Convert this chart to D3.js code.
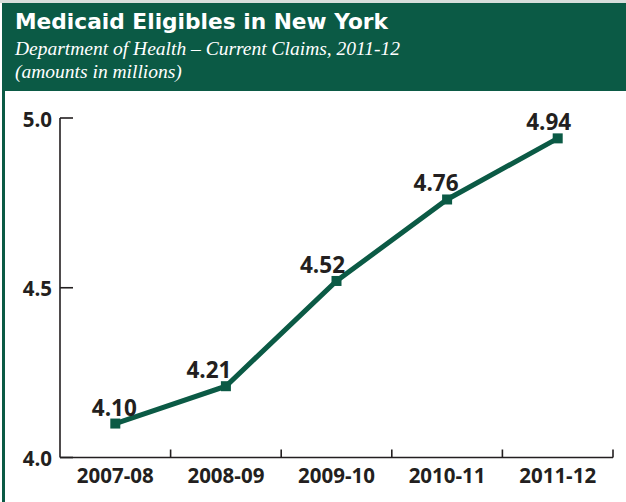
<!DOCTYPE html>
<html>
<head>
<meta charset="utf-8">
<script src="https://cdn.jsdelivr.net/npm/d3@7"></script>
<style>
  html, body { margin: 0; padding: 0; background: #fff; }
  svg { display: block; }
</style>
</head>
<body>
<svg id="chart" width="626" height="502"></svg>
<script>
// Medicaid eligibles by fiscal year (millions)
const years = ["2007-08", "2008-09", "2009-10", "2010-11", "2011-12"];
const eligibles = [4.10, 4.21, 4.52, 4.76, 4.94];
const yTicks = [4.0, 4.5, 5.0];
const valueLabels = ["4.10", "4.21", "4.52", "4.76", "4.94"];
// horizontal nudges so value labels sit up-left of the rising line
const labelShift = [-1, -17, -14, -11, -9];

const title = "Medicaid Eligibles in New York";
const subtitle1 = "Department of Health \u2013 Current Claims, 2011-12";
const subtitle2 = "(amounts in millions)";

const green = "#0b5a45";
const ink = "#231f20";

const svg = d3.select("#chart");
const W = 626, H = 502;

// Frame: light top rule, header band, left border
svg.append("rect").attr("x", 0).attr("y", 0).attr("width", W).attr("height", 3).attr("fill", "#d8dedb");
svg.append("rect").attr("x", 2).attr("y", 3).attr("width", W - 2).attr("height", 88).attr("fill", green);
svg.append("rect").attr("x", 2).attr("y", 91).attr("width", 3).attr("height", H - 91).attr("fill", green);

svg.append("text").attr("x", 15).attr("y", 29)
  .attr("fill", "#fff").attr("font-family", "'DejaVu Sans', sans-serif")
  .attr("font-weight", 700).attr("font-size", 21.5)
  .attr("textLength", 373).attr("lengthAdjust", "spacingAndGlyphs")
  .text(title);

const serif = "'Liberation Serif', 'Times New Roman', serif";
svg.append("text").attr("x", 15).attr("y", 55)
  .attr("fill", "#fff").attr("font-family", serif)
  .attr("font-style", "italic").attr("font-size", 19.5).text(subtitle1);
svg.append("text").attr("x", 15).attr("y", 78)
  .attr("fill", "#fff").attr("font-family", serif)
  .attr("font-style", "italic").attr("font-size", 19.5).text(subtitle2);

// Plot area
const plotLeft = 60, plotRight = 613, plotTop = 118, plotBottom = 457.5;

const x = d3.scaleBand().domain(years).range([plotLeft, plotRight]).padding(0);
const y = d3.scaleLinear().domain([4.0, 5.0]).range([plotBottom, plotTop]);

const font = "'Open Sans', Lato, sans-serif";

// Y axis
const yAxis = svg.append("g");
yAxis.append("line").attr("x1", plotLeft).attr("x2", plotLeft).attr("y1", plotTop).attr("y2", plotBottom)
  .attr("stroke", ink).attr("stroke-width", 1.6);
yAxis.selectAll("line.tick").data(yTicks).join("line").attr("class", "tick")
  .attr("x1", plotLeft).attr("x2", plotLeft + 13)
  .attr("y1", d => y(d)).attr("y2", d => y(d))
  .attr("stroke", ink).attr("stroke-width", 1.6);
yAxis.selectAll("text").data(yTicks).join("text")
  .attr("x", 52).attr("y", d => y(d) + 8.5)
  .attr("text-anchor", "end").attr("fill", ink)
  .attr("font-family", font).attr("font-weight", 700).attr("font-size", 20.5)
  .text(d => d3.format(".1f")(d));

// X axis
const xAxis = svg.append("g");
xAxis.append("line").attr("x1", plotLeft).attr("x2", plotRight).attr("y1", plotBottom).attr("y2", plotBottom)
  .attr("stroke", ink).attr("stroke-width", 1.6);
xAxis.selectAll("line.tick").data(years.slice(1).map(d => x(d)).concat([plotRight]))
  .join("line").attr("class", "tick")
  .attr("x1", d => d).attr("x2", d => d)
  .attr("y1", plotBottom).attr("y2", plotBottom - 8)
  .attr("stroke", ink).attr("stroke-width", 1.6);
xAxis.selectAll("text").data(years).join("text")
  .attr("x", d => x(d) + x.bandwidth() / 2).attr("y", 483)
  .attr("text-anchor", "middle").attr("fill", ink)
  .attr("font-family", font).attr("font-weight", 700).attr("font-size", 20.5)
  .text(d => d);

// Series line and markers
const pts = years.map((yr, i) => ({ yr, v: eligibles[i], label: valueLabels[i], dx: labelShift[i] }));
const cx = d => x(d.yr) + x.bandwidth() / 2;

svg.append("path").datum(pts)
  .attr("d", d3.line().x(cx).y(d => y(d.v)))
  .attr("fill", "none").attr("stroke", green).attr("stroke-width", 5)
  .attr("stroke-linejoin", "miter");

svg.selectAll("rect.marker").data(pts).join("rect").attr("class", "marker")
  .attr("x", d => cx(d) - 5).attr("y", d => y(d.v) - 5)
  .attr("width", 10).attr("height", 10).attr("fill", green);

svg.selectAll("text.value").data(pts).join("text").attr("class", "value")
  .attr("x", d => cx(d) + d.dx).attr("y", d => y(d.v) - 8)
  .attr("text-anchor", "middle").attr("fill", ink)
  .attr("font-family", font).attr("font-weight", 700).attr("font-size", 22.5)
  .text(d => d.label);
</script>
</body>
</html>
